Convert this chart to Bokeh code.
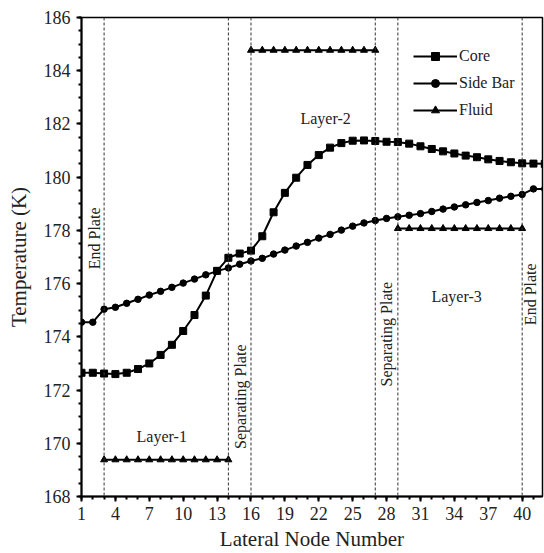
import math
from bokeh.plotting import figure
from bokeh.models import FixedTicker, Label, Span, Legend, LegendItem, Range1d
from bokeh.embed import file_html
from bokeh.resources import INLINE

nodes = list(range(1, 43))
core = [172.65, 172.65, 172.62, 172.60, 172.65, 172.79, 173.00, 173.32, 173.70, 174.22,
        174.82, 175.55, 176.48, 176.97, 177.13, 177.24, 177.78, 178.68, 179.41, 179.98,
        180.46, 180.83, 181.11, 181.28, 181.37, 181.38, 181.36, 181.33, 181.32, 181.26,
        181.16, 181.06, 180.97, 180.89, 180.81, 180.75, 180.67, 180.61, 180.56, 180.52,
        180.51, 180.50]
side_bar = [174.55, 174.55, 175.04, 175.11, 175.26, 175.41, 175.57, 175.71, 175.86, 176.02,
            176.17, 176.33, 176.47, 176.59, 176.73, 176.85, 176.95, 177.11, 177.26, 177.41,
            177.55, 177.71, 177.85, 178.01, 178.16, 178.28, 178.37, 178.45, 178.51, 178.57,
            178.63, 178.71, 178.80, 178.88, 178.96, 179.05, 179.12, 179.21, 179.28, 179.35,
            179.56, 179.56]
nan = float("nan")
fluid_nodes = list(range(3, 41))
fluid = [169.38, 169.38, 169.38, 169.38, 169.38, 169.38, 169.38, 169.38, 169.38, 169.38, 169.38, 169.38,
         nan,
         184.77, 184.77, 184.77, 184.77, 184.77, 184.77, 184.77, 184.77, 184.77, 184.77, 184.77, 184.77,
         nan,
         178.07, 178.07, 178.07, 178.07, 178.07, 178.07, 178.07, 178.07, 178.07, 178.07, 178.07, 178.07]
plate_positions = [3, 14, 16, 27, 29, 40]
x_ticks = [1, 4, 7, 10, 13, 16, 19, 22, 25, 28, 31, 34, 37, 40]
y_ticks = [168, 170, 172, 174, 176, 178, 180, 182, 184, 186]

FONT = "Liberation Serif"

p = figure(width=544, height=553, output_backend="svg", toolbar_location=None,
           x_range=Range1d(1, 41.8), y_range=Range1d(168, 186),
           min_border_left=81, min_border_right=2, min_border_top=17, min_border_bottom=56)
p.grid.visible = False
p.background_fill_color = "white"
p.border_fill_color = "white"
p.outline_line_color = "black"
p.outline_line_width = 1.5

p.xaxis.ticker = FixedTicker(ticks=x_ticks, minor_ticks=list(range(1, 43)))
p.yaxis.ticker = FixedTicker(ticks=y_ticks, minor_ticks=[168 + 0.5 * i for i in range(37)])
for ax in (p.xaxis[0], p.yaxis[0]):
    ax.axis_line_width = 2
    ax.axis_line_color = "black"
    ax.major_tick_line_width = 2
    ax.minor_tick_line_width = 2
    ax.major_tick_in = 0
    ax.major_tick_out = 5
    ax.minor_tick_in = 0
    ax.minor_tick_out = 3
    ax.major_label_text_font = FONT
    ax.major_label_text_font_size = "18px"
    ax.major_label_text_color = "#222222"
    ax.axis_label_text_font = FONT
    ax.axis_label_text_font_size = "21px"
    ax.axis_label_text_font_style = "normal"
    ax.axis_label_text_color = "#222222"
p.xaxis.axis_label = "Lateral Node Number"
p.yaxis.axis_label = "Temperature (K)"
p.xaxis.major_label_standoff = 5
p.yaxis.major_label_standoff = 6
p.xaxis.axis_label_standoff = 4
p.yaxis.axis_label_standoff = 10

for xp in plate_positions:
    p.add_layout(Span(location=xp, dimension="height", line_color="#333333",
                      line_width=1, line_dash="3 2"))

r1 = p.line(nodes, core, line_color="black", line_width=2)
r1m = p.scatter(nodes, core, marker="square", size=7, fill_color="black", line_color="black")
r2 = p.line(nodes, side_bar, line_color="black", line_width=2)
r2m = p.scatter(nodes, side_bar, marker="circle", size=6.5, fill_color="black", line_color="black")
r3 = p.line(fluid_nodes, fluid, line_color="black", line_width=2)
r3m = p.scatter(fluid_nodes, fluid, marker="triangle", size=7, fill_color="black", line_color="black")

legend = Legend(items=[LegendItem(label="Core", renderers=[r1, r1m]),
                       LegendItem(label="Side Bar", renderers=[r2, r2m]),
                       LegendItem(label="Fluid", renderers=[r3, r3m])],
                location=(332, 376), padding=0, margin=0, spacing=7,
                glyph_width=44, glyph_height=20, label_height=20, label_standoff=2,
                label_text_font=FONT, label_text_font_size="16px", label_text_color="#222222",
                background_fill_alpha=0, border_line_alpha=0)
p.add_layout(legend, "center")

def add_text(x, y, t, angle=0.0):
    p.add_layout(Label(x=x, y=y, text=t, angle=angle, text_align="center",
                       text_baseline="middle", text_font=FONT, text_font_size="16px",
                       text_color="#222222"))

add_text(8.1, 170.25, "Layer-1")
add_text(22.6, 182.2, "Layer-2")
add_text(34.2, 175.5, "Layer-3")
add_text(2.15, 177.7, "End Plate", math.pi / 2)
add_text(15.1, 171.75, "Separating Plate", math.pi / 2)
add_text(28.0, 174.1, "Separating Plate", math.pi / 2)
add_text(40.75, 175.6, "End Plate", math.pi / 2)

open("out.html", "w").write(file_html(p, INLINE))
